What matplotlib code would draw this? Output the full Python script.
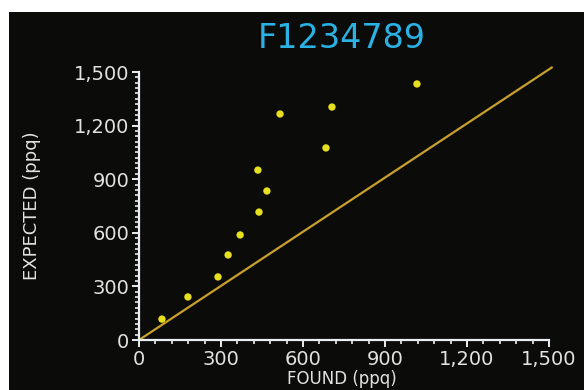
import matplotlib
matplotlib.use("Agg")
import matplotlib.pyplot as plt
from matplotlib.patches import Rectangle
from matplotlib.ticker import MultipleLocator, FuncFormatter

found = [84, 179, 289, 326, 370, 439, 468, 435, 516, 684, 706, 1017]
expected = [117, 241, 353, 476, 588, 716, 834, 951, 1265, 1075, 1304, 1433]
line_x = [0, 1510]
line_y = [0, 1525]
major_ticks = [0, 300, 600, 900, 1200, 1500]

W, H = 584, 390
fig = plt.figure(figsize=(W / 100, H / 100), dpi=100)
fig.patch.set_facecolor("white")
fig.add_artist(Rectangle((9 / W, 0), 1, (H - 12) / H, transform=fig.transFigure,
                         facecolor="#0b0b0a", edgecolor="none", zorder=0))

ax = fig.add_axes([139 / W, (H - 340) / H, 410 / W, 268 / H])
ax.set_facecolor("none")
ax.set_xlim(0, 1500)
ax.set_ylim(0, 1500)

ax.plot(line_x, line_y, color="#c9a02c", lw=1.6, clip_on=False, zorder=2)
ax.scatter(found, expected, s=28, color="#e6e01e", edgecolors="none", zorder=3, clip_on=False)

for s in ["top", "right"]:
    ax.spines[s].set_visible(False)
for s in ["left", "bottom"]:
    ax.spines[s].set_color("#e8eef2")
    ax.spines[s].set_linewidth(1.6)

fmt = FuncFormatter(lambda v, p: f"{int(v):,}")
ax.set_xticks(major_ticks)
ax.set_yticks(major_ticks)
ax.xaxis.set_major_formatter(fmt)
ax.yaxis.set_major_formatter(fmt)
ax.xaxis.set_minor_locator(MultipleLocator(60))
ax.yaxis.set_minor_locator(MultipleLocator(30))
ax.tick_params(which="major", direction="out", length=5, width=1.4, color="#e8eef2",
               labelcolor="#e2e2e2", labelsize=14, pad=2)
ax.tick_params(which="minor", direction="out", length=3, width=1.2, color="#e8eef2")

fig.text(342 / W, 1 - 39 / H, "F1234789", color="#2ab2e4", fontsize=24,
         ha="center", va="center", family="DejaVu Sans")
fig.text(342 / W, 1 - 379 / H, "FOUND (ppq)", color="#e2e2e2", fontsize=12,
         ha="center", va="center")
fig.text(32 / W, 1 - 206 / H, "EXPECTED (ppq)", color="#e2e2e2", fontsize=13,
         ha="center", va="center", rotation=90)

fig.savefig("out.png", dpi=100, facecolor=fig.get_facecolor())
